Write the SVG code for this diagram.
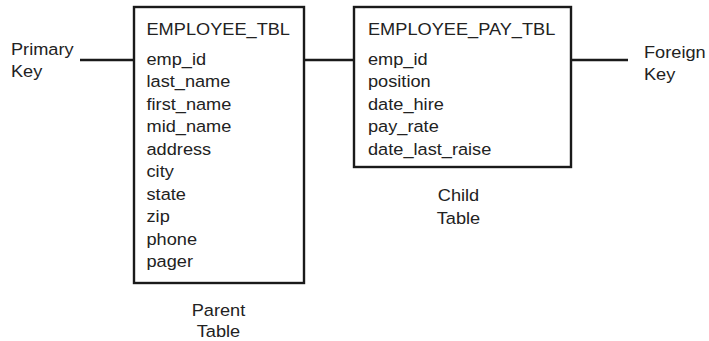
<svg xmlns="http://www.w3.org/2000/svg" width="709" height="341" viewBox="0 0 709 341">
<style>
text{font-family:"Liberation Sans",Arial,sans-serif;font-size:17px;fill:#222}
.c{text-anchor:middle}
.box{fill:#fff;stroke:#1a1a1a;stroke-width:2.4}
.ln{stroke:#1a1a1a;stroke-width:2.4;fill:none}
</style>
<rect width="709" height="341" fill="#fff"/>
<g id="connectors">
<line class="ln" x1="80" y1="60" x2="134" y2="60"/>
<line class="ln" x1="304" y1="60" x2="354" y2="60"/>
<line class="ln" x1="571" y1="60" x2="628" y2="60"/>
</g>
<g id="primary-key-label" transform="translate(11,0) scale(1.07 1)">
<text x="0" y="55">Primary</text>
<text x="0" y="77">Key</text>
</g>
<g id="foreign-key-label" transform="translate(644,0) scale(1.07 1)">
<text x="0" y="58">Foreign</text>
<text x="0" y="80">Key</text>
</g>
<g id="employee-tbl">
<rect class="box" x="134" y="7" width="170" height="276"/>
<g transform="translate(146.5,0) scale(1.07 1)">
<text x="0" y="35.5">EMPLOYEE_TBL</text>
<text x="0" y="65">emp_id</text>
<text x="0" y="87.5">last_name</text>
<text x="0" y="110">first_name</text>
<text x="0" y="132.5">mid_name</text>
<text x="0" y="155">address</text>
<text x="0" y="177.5">city</text>
<text x="0" y="200">state</text>
<text x="0" y="222.5">zip</text>
<text x="0" y="245">phone</text>
<text x="0" y="267.5">pager</text>
</g>
</g>
<g id="employee-pay-tbl">
<rect class="box" x="354" y="7" width="217" height="160"/>
<g transform="translate(368,0) scale(1.07 1)">
<text x="0" y="35.5">EMPLOYEE_PAY_TBL</text>
<text x="0" y="65">emp_id</text>
<text x="0" y="87.5">position</text>
<text x="0" y="110">date_hire</text>
<text x="0" y="132.5">pay_rate</text>
<text x="0" y="155">date_last_raise</text>
</g>
</g>
<g id="parent-label" transform="translate(218.5,0) scale(1.07 1)">
<text class="c" x="0" y="316">Parent</text>
<text class="c" x="0" y="337">Table</text>
</g>
<g id="child-label" transform="translate(458.5,0) scale(1.07 1)">
<text class="c" x="0" y="201">Child</text>
<text class="c" x="0" y="224">Table</text>
</g>
</svg>
